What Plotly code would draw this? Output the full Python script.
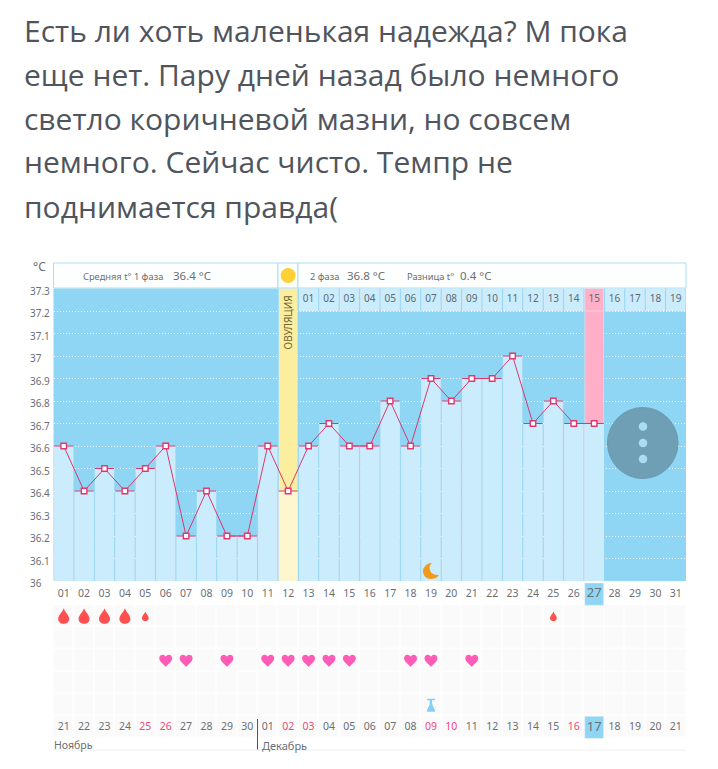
import plotly.graph_objects as go

W, H = 718, 769

title_lines = ["Есть ли хоть маленькая надежда? М пока",
               "еще нет. Пару дней назад было немного",
               "светло коричневой мазни, но совсем",
               "немного. Сейчас чисто. Темпр не",
               "поднимается правда("]
days = list(range(1, 32))
temp_days = list(range(1, 28))
temps = [36.6, 36.4, 36.5, 36.4, 36.5, 36.6, 36.2, 36.4, 36.2, 36.2, 36.6, 36.4, 36.6, 36.7,
         36.6, 36.6, 36.8, 36.6, 36.9, 36.8, 36.9, 36.9, 37.0, 36.7, 36.8, 36.7, 36.7]
ytick_vals = [36, 36.1, 36.2, 36.3, 36.4, 36.5, 36.6, 36.7, 36.8, 36.9, 37, 37.1, 37.2, 37.3]
ytick_text = ["36", "36.1", "36.2", "36.3", "36.4", "36.5", "36.6", "36.7", "36.8", "36.9", "37", "37.1", "37.2", "37.3"]
day_labels = ["%02d" % d for d in days]
cycle_days = list(range(13, 32))
cycle_labels = ["%02d" % d for d in range(1, 20)]
date_labels = ["21", "22", "23", "24", "25", "26", "27", "28", "29", "30",
               "01", "02", "03", "04", "05", "06", "07", "08", "09", "10",
               "11", "12", "13", "14", "15", "16", "17", "18", "19", "20", "21"]
red_dates = [5, 6, 12, 13, 19, 20, 26]
ovulation_day = 12
test_day = 27
today = 27
moon_day = 19
moon_level = 36.044
heart_days = [6, 7, 9, 11, 12, 13, 14, 15, 18, 19, 21]
drop_days = [1, 2, 3, 4, 5, 25]
drop_scale = [1, 1, 1, 1, 0.62, 0.62]
test_mark_days = [19]

ROW_DATES, ROW_TEST, ROW_HEART, ROW_DROP, ROW_TOP = 0, 1, 3, 5, 6

X0, X1 = 53.5, 686
PBG = "#8fd6f4"
CELL = "#cbecfc"
TXT = "#6a6f74"
FONT = "Noto Sans"


def py(px):
    return 1 - px / H


def px_x(px):
    return px / W


fig = go.Figure()

# chart bars
fig.add_bar(x=[ovulation_day], y=[ytick_vals[-1]], marker_color="#fbee9f", width=0.9, hoverinfo="skip")
fig.add_bar(x=[test_day], y=[ytick_vals[-1]], marker_color="#ffb0c8", width=0.92, hoverinfo="skip")
fig.add_bar(x=cycle_days, y=[0.1] * len(cycle_days), base=37.2,
            marker_color=["#ffb0c8" if d == test_day else CELL for d in cycle_days], width=0.92, hoverinfo="skip")
fig.add_bar(x=temp_days, y=temps,
            marker_color=["#fdf6cf" if d == ovulation_day else CELL for d in temp_days], width=0.92, hoverinfo="skip")
fig.add_scatter(x=temp_days, y=temps, mode="lines+markers",
                line=dict(color="#d9386f", width=1),
                marker=dict(symbol="square", size=5.5, color="white", line=dict(color="#e0386f", width=1.4)),
                error_x=dict(type="constant", value=0.47, color="#d9386f", thickness=1, width=0),
                hoverinfo="skip")
fig.add_scatter(x=cycle_days, y=[37.25] * len(cycle_days), text=cycle_labels, mode="text",
                textfont=dict(family=FONT, size=10, color="#5d6a72"), hoverinfo="skip")

# sun
fig.add_scatter(x=[ovulation_day], y=[0.5], yaxis="y3", mode="markers",
                marker=dict(size=15, color="#fdd033"), hoverinfo="skip")

# lower strip
fig.add_heatmap(x=days, y=[0, 1, 2, 3, 4, 5], z=[[1] * 31 for _ in range(6)], yaxis="y2",
                colorscale=[[0, "#fafafa"], [1, "#fafafa"]], showscale=False, xgap=1, ygap=1.5, hoverinfo="skip")
fig.add_bar(x=[today], y=[1], base=[ROW_TOP - 0.5], yaxis="y2", marker_color=PBG, width=0.92, hoverinfo="skip")
fig.add_bar(x=[today], y=[1], base=[ROW_DATES - 0.5], yaxis="y2", marker_color=PBG, width=0.92, hoverinfo="skip")
fig.add_scatter(x=days, y=[ROW_TOP] * 31, yaxis="y2", mode="text", text=day_labels,
                textfont=dict(family=FONT, size=[13 if d == today else 10.5 for d in days], color=TXT), hoverinfo="skip")
fig.add_scatter(x=days, y=[ROW_DATES] * 31, yaxis="y2", mode="text", text=date_labels,
                textfont=dict(family=FONT, size=[13 if d == today else 10.5 for d in days],
                              color=["#f0487c" if d in red_dates else TXT for d in days]), hoverinfo="skip")

shapes = []
# chart background
shapes.append(dict(type="rect", xref="x domain", yref="y domain", x0=0, x1=1, y0=0, y1=1,
                   fillcolor=PBG, line_width=0, layer="below"))


def anchored(x, y, yref, path, color):
    shapes.append(dict(type="path", xref="x", yref=yref, xsizemode="pixel", ysizemode="pixel",
                       xanchor=x, yanchor=y, path=path, fillcolor=color, line_width=0, layer="above"))


HEART = ("M 0,-6 C -3,-3 -6.5,-0.5 -6.5,2.5 C -6.5,5 -4.5,6 -3,6 C -1.5,6 -0.5,5 0,4 "
         "C 0.5,5 1.5,6 3,6 C 4.5,6 6.5,5 6.5,2.5 C 6.5,-0.5 3,-3 0,-6 Z")


def drop(s):
    p = [(0, 8), (1, 4.5), (5.5, 1), (5.5, -2.5), (5.5, -6), (3, -7.5), (0, -7.5), (-3, -7.5), (-5.5, -6),
         (-5.5, -2.5), (-5.5, 1), (-1, 4.5), (0, 8)]
    q = [f"{a * s:.2f},{b * s:.2f}" for a, b in p]
    return f"M {q[0]} C {q[1]} {q[2]} {q[3]} C {q[4]} {q[5]} {q[6]} C {q[7]} {q[8]} {q[9]} C {q[10]} {q[11]} {q[12]} Z"


MOON = ("M 1,8 C -5,8 -8,3 -8,0 C -8,-5 -4,-8 0,-8 C 3,-8 6,-7 8,-4 C 4,-4 0,-3 -1,1 C -2,4 -1,6 1,8 Z")
TEST = ("M -4,6.5 L 4,6.5 L 4,5 L 1.2,5 L 1.2,1 L 4,-5 L 4,-6.5 L -4,-6.5 L -4,-5 L -1.2,1 L -1.2,5 L -4,5 Z")

for d in heart_days:
    anchored(d, ROW_HEART, "y2", HEART, "#ff5cb8")
for d, s in zip(drop_days, drop_scale):
    anchored(d, ROW_DROP, "y2", drop(s), "#ff4f4f")
for d in test_mark_days:
    anchored(d, ROW_TEST, "y2", TEST, "#86cef5")
anchored(moon_day, moon_level, "y", MOON, "#f29a1b")

# header boxes
for a, b in [(53.5, 278), (278, 298), (298, 686)]:
    shapes.append(dict(type="rect", xref="paper", yref="paper", x0=px_x(a), x1=px_x(b), y0=py(288), y1=py(263),
                       line=dict(color="#a9def4", width=1), fillcolor="#fdfefe", layer="below"))
# separators
shapes.append(dict(type="line", xref="x", yref="paper", x0=10.5, x1=10.5, y0=py(719), y1=py(750),
                   line=dict(color="#555", width=1)))
shapes.append(dict(type="line", xref="paper", yref="paper", x0=px_x(53), x1=px_x(686), y0=py(750), y1=py(750),
                   line=dict(color="#eeeeee", width=1)))
# floating button
shapes.append(dict(type="circle", xref="paper", yref="paper", x0=px_x(607.5), x1=px_x(678),
                   y0=py(478.5), y1=py(407.5), fillcolor="#6f9fb5", line=dict(color="#6a99ae", width=1)))
for cy in (426.5, 443, 459):
    shapes.append(dict(type="circle", xref="paper", yref="paper", x0=px_x(638.7), x1=px_x(647.3),
                       y0=py(cy + 4.3), y1=py(cy - 4.3), fillcolor="#a8deef", line_width=0))

ann = []
for i, line in enumerate(title_lines):
    ann.append(dict(text=line, xref="paper", yref="paper", x=px_x(22), y=py(30 + 44 * i), xanchor="left",
                    yanchor="middle", showarrow=False, font=dict(family="Open Sans", size=30, color="#50555d")))


def label(text, x, y, size, color=TXT):
    ann.append(dict(text=text, xref="paper", yref="paper", x=px_x(x - 2), y=py(y), xanchor="left", yanchor="middle",
                    showarrow=False, font=dict(family=FONT, size=size, color=color)))


label("°C", 33, 266, 12)
label("Средняя t° 1 фаза", 83, 276, 9.3)
label("36.4 °C", 173, 275, 11.5)
label("2 фаза", 310, 276, 9.3)
label("36.8 °C", 347, 275, 11.5)
label("Разница t°", 407, 276, 9.3)
label("0.4 °C", 460, 275, 11.5)
label("Ноябрь", 54, 745, 10.5)
label("Декабрь", 262, 745, 11)
for v, t in zip(ytick_vals, ytick_text):
    ann.append(dict(text=t, xref="paper", yref="y", x=px_x(28), y=v, yshift=-2, xanchor="left", yanchor="middle",
                    showarrow=False, font=dict(family=FONT, size=10, color=TXT)))
ann.append(dict(text="ОВУЛЯЦИЯ", xref="x", yref="y", x=ovulation_day, y=37.15, textangle=-90, showarrow=False,
                font=dict(family=FONT, size=10, color="#6d6436")))

fig.update_layout(
    width=W, height=H, margin=dict(l=0, r=0, t=0, b=0), autosize=False,
    paper_bgcolor="white", plot_bgcolor="rgba(0,0,0,0)", showlegend=False, barmode="overlay",
    xaxis=dict(domain=[px_x(X0), px_x(X1)], range=[0.5, 31.5], visible=False, fixedrange=True),
    yaxis=dict(domain=[py(581), py(288.5)], range=[36, 37.3], tickvals=ytick_vals[1:-1], showticklabels=False,
               showgrid=True, gridcolor="rgba(255,255,255,0.85)", griddash="1px,2px", gridwidth=1, zeroline=False,
               ticks="", showline=False, fixedrange=True),
    yaxis2=dict(domain=[py(738.6), py(583)], range=[-0.5, 6.5], visible=False, anchor="x", fixedrange=True),
    yaxis3=dict(domain=[py(288), py(263)], range=[0, 1], visible=False, anchor="x", fixedrange=True),
    shapes=shapes, annotations=ann,
)

fig.write_html("out.html", post_script="document.body.style.margin='0';", config={"displayModeBar": False})
